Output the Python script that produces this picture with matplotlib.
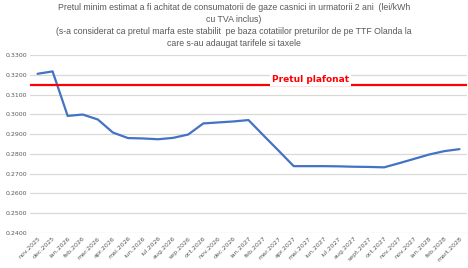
import numpy as np
import matplotlib.pyplot as plt

months = ["nov.2025", "dec.2025", "ian.2026", "feb.2026", "mar.2026", "apr.2026",
          "mai.2026", "iun.2026", "iul.2026", "aug.2026", "sep.2026", "oct.2026",
          "nov.2026", "dec.2026", "ian.2027", "feb.2027", "mar.2027", "apr.2027",
          "mai.2027", "iun.2027", "iul.2027", "aug.2027", "sept.2027", "oct.2027",
          "nov.2027", "nov.2027", "ian.2028", "feb.2028", "mart.2028"]
pret_estimat = [0.3205, 0.3217, 0.2992, 0.2999, 0.2974, 0.2908, 0.2880, 0.2878,
                0.2874, 0.2881, 0.2898, 0.2954, 0.2959, 0.2964, 0.2971, 0.2893,
                0.2816, 0.2738, 0.2738, 0.2738, 0.2737, 0.2735, 0.2734, 0.2732,
                0.2753, 0.2775, 0.2797, 0.2814, 0.2824]
pret_plafonat = 0.3148

title = ("Pretul minim estimat a fi achitat de consumatorii de gaze casnici in urmatorii 2 ani  (lei/kWh\n"
         "cu TVA inclus)\n"
         "(s-a considerat ca pretul marfa este stabilit  pe baza cotatiilor preturilor de pe TTF Olanda la\n"
         "care s-au adaugat tarifele si taxele")

W, H = 468, 268
fig = plt.figure(figsize=(W / 100, H / 100), dpi=100)
ax = fig.add_axes([30 / W, 1 - 233 / H, 437 / W, 178 / H])

x = np.arange(len(months))
ax.plot(x, pret_estimat, color="#4472C4", lw=1.6, solid_capstyle="round")
ax.axhline(pret_plafonat, color="#FF0000", lw=1.6)
ax.text(18.1, pret_plafonat + 0.0005, "Pretul plafonat", color="#FF0000",
        fontsize=6.5, fontweight="bold", ha="center", va="bottom",
        bbox=dict(facecolor="white", edgecolor="none", pad=1.5))

ax.set_xlim(-0.5, len(months) - 0.5)
ax.set_ylim(0.24, 0.33)
ax.set_yticks(np.arange(0.24, 0.3301, 0.01))
ax.yaxis.set_major_formatter(plt.FormatStrFormatter("%.4f"))
ax.set_xticks(x)
ax.set_xticklabels(months, rotation=45, ha="right", rotation_mode="anchor")
ax.tick_params(axis="both", length=0, labelsize=4.5, labelcolor="#595959", pad=2)
ax.grid(axis="y", color="#d9d9d9", lw=0.9)
ax.set_axisbelow(True)
for s in ax.spines.values():
    s.set_visible(False)

fig.text(0.5, 1 - 2.5 / H, title, ha="center", va="top", fontsize=6.3,
         family="Liberation Sans", color="#595959", linespacing=1.45)

fig.savefig("out.png", dpi=100)
